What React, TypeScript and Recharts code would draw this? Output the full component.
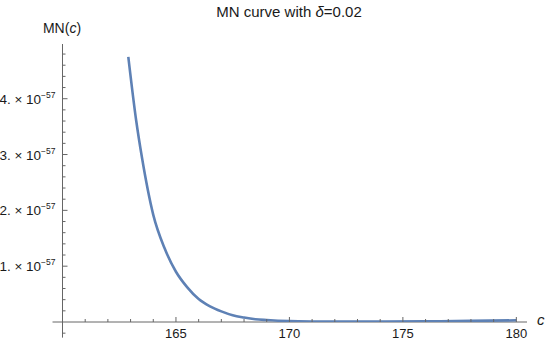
import { LineChart, Line, XAxis, YAxis, ReferenceLine } from "recharts";

// c values and MN(c) in units of 1e-57
const cValues = [162.9, 163.25, 163.5, 164, 164.5, 165, 165.5, 166, 166.5, 167, 167.5, 168, 168.5, 169, 170, 171, 172, 174, 176, 178, 180];
const mnValues = [4.75, 3.6, 2.95, 1.92, 1.32, 0.9, 0.62, 0.41, 0.28, 0.19, 0.12, 0.08, 0.05, 0.035, 0.015, 0.008, 0.006, 0.008, 0.012, 0.02, 0.03];

const xTicks = [161, 162, 163, 164, 165, 166, 167, 168, 169, 170, 171, 172, 173, 174, 175, 176, 177, 178, 179, 180];
const yTicks = [0.2, 0.4, 0.6, 0.8, 1, 1.2, 1.4, 1.6, 1.8, 2, 2.2, 2.4, 2.6, 2.8, 3, 3.2, 3.4, 3.6, 3.8, 4, 4.2, 4.4, 4.6, 4.8];

const AXIS = "#666";
const TEXT = "#1a1a1a";
const FONT = "'Liberation Sans', Arial, sans-serif";

const data = cValues.map((c, i) => ({ c, mn: mnValues[i] }));

const isMajor = (v: number, step: number) => Math.abs(v / step - Math.round(v / step)) < 1e-6;

function XTick({ x, y, payload }: any) {
  const major = isMajor(payload.value, 5);
  return (
    <g>
      <line x1={x} x2={x} y1={y} y2={y - (major ? 5 : 3)} stroke={AXIS} />
      {major && (
        <text x={x} y={y + 16} textAnchor="middle" fontSize={13} fill={TEXT} fontFamily={FONT}>
          {payload.value}
        </text>
      )}
    </g>
  );
}

function YTick({ x, y, payload }: any) {
  const major = isMajor(payload.value, 1);
  return (
    <g>
      <line x1={x} x2={x + (major ? 5 : 3)} y1={y} y2={y} stroke={AXIS} />
      {major && (
        <text x={x - 7} y={y + 5} textAnchor="end" fontSize={13.5} fill={TEXT} fontFamily={FONT}>
          {Math.round(payload.value)}. × 10
          <tspan dy={-6} fontSize={8.5}>−57</tspan>
        </text>
      )}
    </g>
  );
}

export default function App() {
  return (
    <div style={{ position: "absolute", left: 0, top: 0, width: 550, height: 344, background: "#fff" }}>
      <LineChart width={550} height={344} data={data} margin={{ top: 44, right: 23, bottom: 0, left: 2 }}>
        <XAxis
          dataKey="c"
          type="number"
          domain={[160, 180.47]}
          ticks={xTicks}
          axisLine={false}
          tickLine={false}
          tickSize={0}
          tickMargin={0}
          height={22}
          tick={<XTick />}
          interval={0}
          allowDataOverflow
        />
        <YAxis
          type="number"
          domain={[0, 4.98]}
          ticks={yTicks}
          axisLine={false}
          tickLine={false}
          tickSize={0}
          tickMargin={0}
          width={60.5}
          tick={<YTick />}
          interval={0}
          allowDataOverflow
        />
        <ReferenceLine segment={[{ x: 159.56, y: 0 }, { x: 180.47, y: 0 }]} stroke={AXIS} ifOverflow="visible" />
        <ReferenceLine segment={[{ x: 160, y: -0.28 }, { x: 160, y: 4.98 }]} stroke={AXIS} ifOverflow="visible" />
        <ReferenceLine segment={[{ x: 160, y: -0.2 }, { x: 160.13, y: -0.2 }]} stroke={AXIS} ifOverflow="visible" />
        <Line type="monotone" dataKey="mn" stroke="#5E81B5" strokeWidth={2.6} dot={false} isAnimationActive={false} />
      </LineChart>
      <svg width={550} height={344} style={{ position: "absolute", left: 0, top: 0, pointerEvents: "none" }}>
        <text x={289} y={17} textAnchor="middle" fontSize={15} fill={TEXT} fontFamily={FONT}>
          MN curve with <tspan fontStyle="italic">δ</tspan>=0.02
        </text>
        <text x={62} y={33} textAnchor="middle" fontSize={14} fill={TEXT} fontFamily={FONT}>
          MN(<tspan fontStyle="italic">c</tspan>)
        </text>
        <text x={537} y={325} fontSize={15} fontStyle="italic" fill={TEXT} fontFamily={FONT}>
          c
        </text>
      </svg>
    </div>
  );
}
